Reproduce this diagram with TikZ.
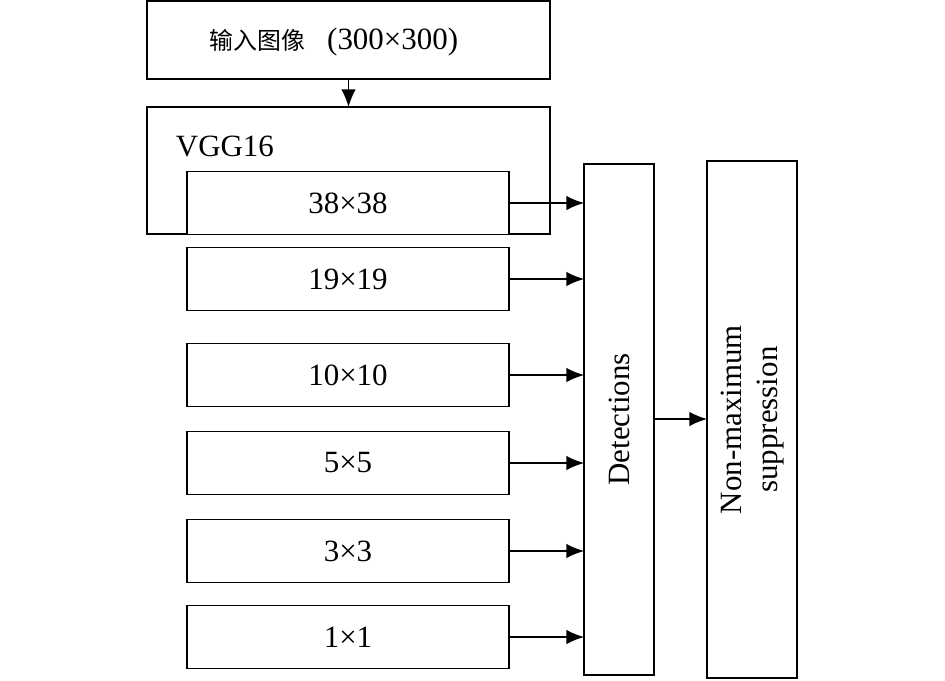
\documentclass[tikz,border=0pt]{standalone}
\usepackage{fontspec}
\setmainfont{Liberation Serif}
\newfontfamily\cjk{Noto Sans CJK SC}
\usetikzlibrary{arrows.meta}

\begin{document}
\begin{tikzpicture}[x=0.025cm,y=-0.025cm,
  box/.style={draw,line width=0.9pt,inner sep=0pt,outer sep=0pt},
  fmap/.style={box,minimum width=8.05cm,minimum height=1.575cm},
  arr/.style={-{Latex[length=4.4mm,width=3.6mm]},line width=0.9pt},
  font=\fontsize{22}{26}\selectfont]
\useasboundingbox (0,0) rectangle (945,680);

% input and backbone
\node[box,minimum width=10.075cm,minimum height=1.95cm] (input) at (348.5,40) {};
\node at (334,42) {{\cjk\fontsize{17}{20}\selectfont 输入图像}\hspace{0.45em} (300×300)};
\node[box,minimum width=10.075cm,minimum height=3.175cm] (vgg) at (348.5,170.5) {};
\node[anchor=west] (vgglbl) at (171,146) {VGG16};
\draw[arr] (input.south) -- (vgg.north);

% detection heads
\node[box,minimum width=1.75cm,minimum height=12.775cm] (det) at (619,419.5)
  {\rotatebox{90}{Detections}};
\node[box,minimum width=2.25cm,minimum height=12.925cm] (nms) at (752,419.5)
  {\rotatebox{90}{\begin{tabular}{c}Non-maximum\\ suppression\end{tabular}}};

% feature maps
\foreach \y/\s [count=\i] in {203/38, 279/19, 375/10, 463/5, 551/3, 637/1}
{
\node[fmap,fill=white] (f\i) at (348,\y) {\s×\s};
\draw[arr] (f\i.east) -- (det.west |- f\i.east);
}

\draw[arr] (det.east |- 0,419) -- (nms.west |- 0,419);
\end{tikzpicture}
\end{document}
